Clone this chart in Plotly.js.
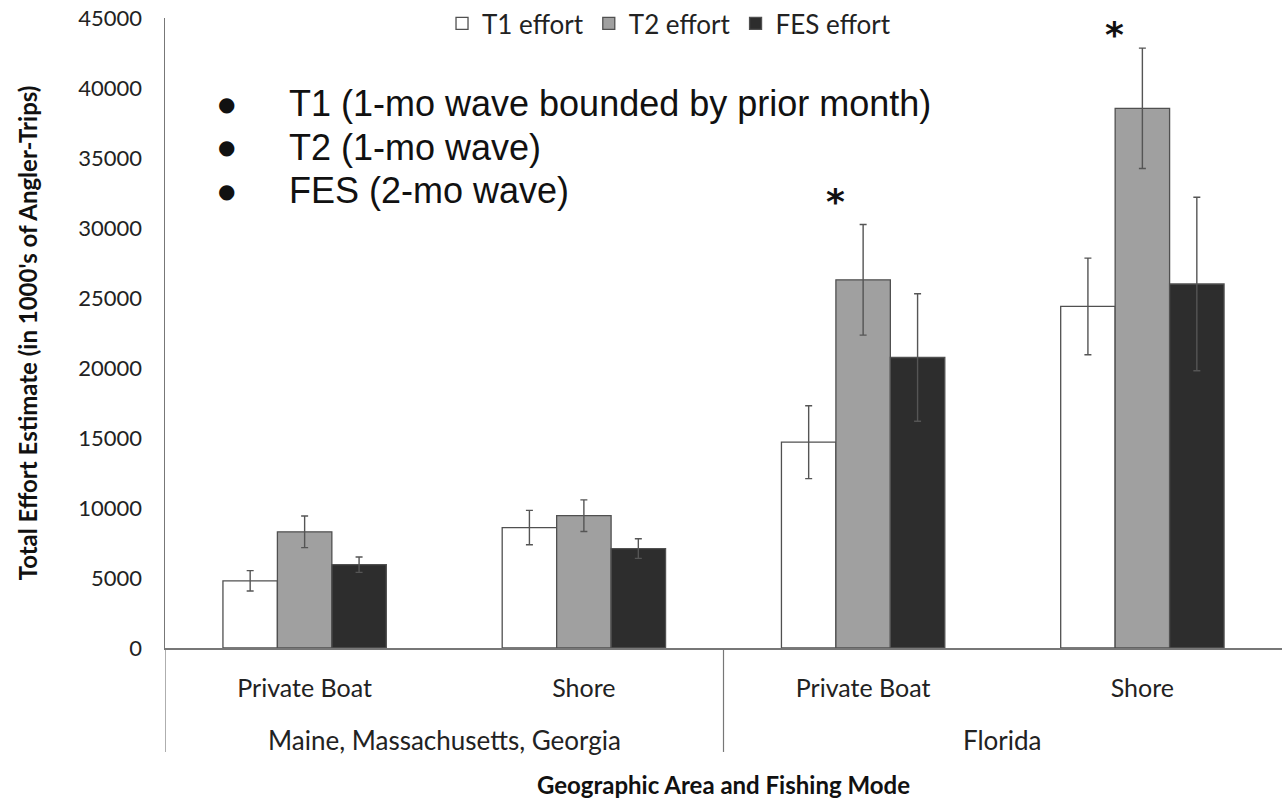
<!DOCTYPE html>
<html>
<head>
<meta charset="utf-8">
<script src="https://cdn.plot.ly/plotly-3.0.1.min.js"></script>
<style>html,body{margin:0;padding:0;background:#fff;}#chart{width:1282px;height:811px;}</style>
</head>
<body>
<div id="chart"></div>
<script>
// ---- data ----
const groupNames = ["Maine, Massachusetts, Georgia", "Florida"];
const groupOfCategory = [0, 0, 1, 1];
const modes = ["Private Boat", "Shore", "Private Boat", "Shore"];
const seriesNames = ["T1 effort", "T2 effort", "FES effort"];
const t1Values = [4800, 8600, 14700, 24400];
const t1Errors = [730, 1230, 2600, 3450];
const t2Values = [8300, 9450, 26300, 38550];
const t2Errors = [1130, 1130, 3950, 4300];
const fesValues = [5950, 7100, 20750, 26000];
const fesErrors = [550, 700, 4550, 6200];
const starCategoryIndex = [2, 3];
const starY = [31900, 43800];
const noteLines = ["T1 (1-mo wave bounded by prior month)", "T2 (1-mo wave)", "FES (2-mo wave)"];
const yTickVals = [0, 5000, 10000, 15000, 20000, 25000, 30000, 35000, 40000, 45000];

const fontUI = "Lato, 'Open Sans', sans-serif";
const xIdx = modes.map((_, i) => i);

function barTrace(name, vals, errs, fill) {
  return {
    type: "bar", name: name, x: xIdx, y: vals,
    marker: {color: fill, line: {color: "#505050", width: 1.3}},
    error_y: {type: "data", array: errs, visible: true, color: "#555", thickness: 1.4, width: 3.5}
  };
}
const data = [
  barTrace(seriesNames[0], t1Values, t1Errors, "#ffffff"),
  barTrace(seriesNames[1], t2Values, t2Errors, "#a0a0a0"),
  barTrace(seriesNames[2], fesValues, fesErrors, "#2d2d2d")
];

const annotations = [];
// significance stars
starCategoryIndex.forEach((ci, i) => {
  annotations.push({x: ci, y: starY[i], xref: "x", yref: "y", text: "<b>*</b>", showarrow: false, xshift: -28,
    font: {family: "'DejaVu Sans', sans-serif", size: 36, color: "#111"}});
});
// group labels (second-level category labels)
groupNames.forEach((g, gi) => {
  const members = xIdx.filter(i => groupOfCategory[i] === gi);
  const cx = members.reduce((a, b) => a + b, 0) / members.length;
  annotations.push({x: cx, y: -0.1458, xref: "x", yref: "paper", yanchor: "middle", text: g, showarrow: false,
    font: {family: fontUI, size: 26, color: "#222"}});
});
// inset note
noteLines.forEach((t, i) => {
  const yp = 0.8637 - i * 0.0689;
  annotations.push({xref: "paper", yref: "paper", x: 0.0555, y: yp, xanchor: "center", yanchor: "middle",
    text: "●", showarrow: false, font: {family: "'DejaVu Sans', sans-serif", size: 20, color: "#111"}});
  annotations.push({xref: "paper", yref: "paper", x: 0.1095, y: yp, xanchor: "left", yanchor: "middle",
    text: t, showarrow: false, font: {family: "'Liberation Sans', Arial, sans-serif", size: 36, color: "#111"}});
});

// group dividers below the axis
const shapes = [];
const boundaries = [-0.5];
for (let i = 1; i < groupOfCategory.length; i++) {
  if (groupOfCategory[i] !== groupOfCategory[i - 1]) boundaries.push(i - 0.5);
}
boundaries.forEach(b => shapes.push({type: "line", xref: "x", yref: "paper", x0: b, x1: b, y0: 0, y1: -0.165,
  line: {color: "#777", width: 1.2}}));

const layout = {
  width: 1282, height: 811,
  margin: {l: 165, r: 0, t: 17, b: 163},
  paper_bgcolor: "#fff", plot_bgcolor: "#fff",
  barmode: "group", bargap: 0.415, bargroupgap: 0,
  font: {family: fontUI, color: "#222"},
  showlegend: true,
  legend: {orientation: "h", x: 0.248, xanchor: "left", y: 0.992, yanchor: "middle",
    font: {family: fontUI, size: 26, color: "#222"}, bgcolor: "rgba(0,0,0,0)", traceorder: "normal"},
  xaxis: {
    range: [-0.5, 3.5], tickvals: xIdx, ticktext: modes, ticks: "",
    showline: true, linecolor: "#777", linewidth: 1.5,
    tickfont: {family: fontUI, size: 25, color: "#222"},
    ticklabelstandoff: 17,
    showgrid: false, zeroline: false,
    title: {text: "<b>Geographic Area and Fishing Mode</b>", font: {family: fontUI, size: 24, color: "#111"}, standoff: 76}
  },
  yaxis: {
    range: [0, 45000], tickvals: yTickVals, ticktext: yTickVals.map(String),
    showline: true, linecolor: "#777", linewidth: 1.5,
    showgrid: false, zeroline: false, ticks: "",
    tickfont: {family: fontUI, size: 22, color: "#222"},
    ticklabelstandoff: 17,
    title: {text: "<b>Total Effort Estimate (in 1000's of Angler-Trips)</b>", font: {family: fontUI, size: 24, color: "#111"}, standoff: 34}
  },
  annotations: annotations,
  shapes: shapes
};

Plotly.newPlot("chart", data, layout, {displayModeBar: false, staticPlot: true});
</script>
</body>
</html>
